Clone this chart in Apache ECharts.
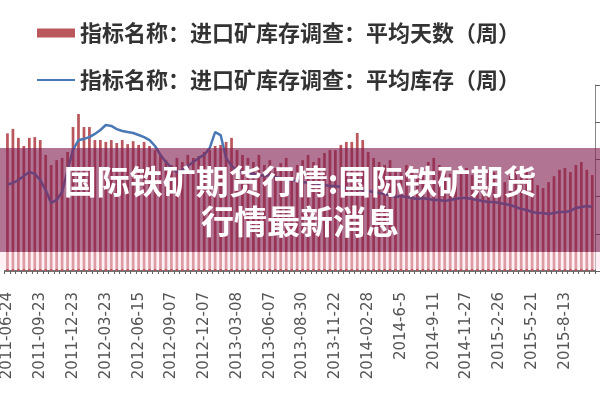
<!DOCTYPE html>
<html>
<head>
<meta charset="utf-8">
<script src="https://cdn.jsdelivr.net/npm/echarts@6/dist/echarts.min.js"></script>
<style>html,body{margin:0;padding:0;background:#fff;}#c{width:600px;height:400px;}</style>
</head>
<body>
<div id="c"></div>
<script>
var categories = [
'2011-06-24','2011-07-08','2011-07-22','2011-08-05','2011-08-19','2011-09-02',
'2011-09-23','2011-10-14','2011-10-28','2011-11-11','2011-11-25','2011-12-09',
'2011-12-23','2012-01-06','2012-01-20','2012-02-10','2012-02-24','2012-03-09',
'2012-03-23','2012-04-06','2012-04-20','2012-05-04','2012-05-18','2012-06-01',
'2012-06-15','2012-06-29','2012-07-13','2012-07-27','2012-08-10','2012-08-24',
'2012-09-07','2012-09-21','2012-10-12','2012-10-26','2012-11-09','2012-11-23',
'2012-12-07','2012-12-21','2013-01-04','2013-01-18','2013-02-01','2013-02-22',
'2013-03-08','2013-03-22','2013-04-05','2013-04-19','2013-05-10','2013-05-24',
'2013-06-07','2013-06-21','2013-07-05','2013-07-19','2013-08-02','2013-08-16',
'2013-08-30','2013-09-13','2013-09-27','2013-10-11','2013-10-25','2013-11-08',
'2013-11-22','2013-12-06','2013-12-20','2014-01-03','2014-01-24','2014-02-14',
'2014-02-28','2014-3-14','2014-3-28','2014-4-11','2014-4-25','2014-5-16',
'2014-6-5','2014-6-19','2014-7-3','2014-7-17','2014-7-31','2014-8-21',
'2014-9-11','2014-9-25','2014-10-9','2014-10-23','2014-11-6','2014-11-13',
'2014-11-27','2014-12-11','2014-12-25','2015-1-8','2015-1-22','2015-2-5',
'2015-2-26','2015-3-12','2015-3-26','2015-4-9','2015-4-23','2015-5-7',
'2015-5-21','2015-6-4','2015-6-18','2015-7-2','2015-7-16','2015-7-30',
'2015-8-13','2015-8-27','2015-9-10','2015-9-24','2015-10-8','2015-10-22'
];
var avgDays = [
37.0,38.2,35.8,33.6,35.8,36.0,35.2,31.2,28.5,29.8,30.4,32.0,38.7,
42.2,38.7,38.7,35.2,35.2,34.7,35.2,34.4,35.2,34.1,34.9,33.9,
34.7,33.6,32.5,31.2,29.8,28.5,30.4,29.3,31.2,30.4,30.9,32.0,
32.5,33.6,33.9,34.7,35.8,32.5,31.2,
30.4,29.3,31.2,28.5,29.8,27.7,29.0,30.4,27.2,28.5,29.8,31.2,29.3,30.4,31.7,32.5,
32.5,33.9,34.7,34.7,37.1,35.2,32.0,
30.4,29.3,28.5,29.8,27.7,26.6,28.5,27.2,25.8,27.7,29.3,30.4,28.5,27.2,26.1,25.0,
26.6,27.7,25.8,24.5,25.5,27.2,26.6,25.0,23.9,25.5,27.2,28.5,26.6,25.0,23.1,22.3,
23.9,25.5,27.2,27.7,26.6,
28.5,29.3,27.2,25.8
];
var avgStock = [
46.5,47.3,48.9,51.1,53.2,52.2,48.9,43.5,36.6,38.2,42.5,54.3,65.1,
70.4,71.0,72.0,73.7,75.8,78.5,78.0,76.3,75.3,74.7,74.2,73.1,
72.0,70.4,67.2,62.4,58.6,55.4,53.2,54.3,56.5,58.6,60.8,62.4,
66.1,74.7,73.1,60.8,56.5,54.3,53.2,
52.7,52.2,51.6,51.1,51.6,50.5,50.0,49.5,48.9,48.4,47.8,47.3,47.3,46.8,46.2,45.7,
45.7,45.2,44.6,44.6,44.1,43.5,43.0,42.5,41.9,41.4,40.9,39.8,40.3,39.8,39.2,38.7,
39.2,38.7,38.2,38.2,37.6,38.2,38.7,39.2,39.2,38.7,38.2,37.6,37.1,37.1,36.6,36.0,
35.5,34.4,33.3,32.8,31.7,31.2,31.2,30.6,31.2,31.7,31.7,32.3,33.9,34.4,34.9,34.4
];
var seriesNames = ['指标名称：进口矿库存调查：平均天数（周）','指标名称：进口矿库存调查：平均库存（周）'];
var titleLines = ['国际铁矿期货行情:国际铁矿期货','行情最新消息'];

var chart = echarts.init(document.getElementById('c'), null, {renderer:'canvas'});
chart.setOption({
  animation: false,
  backgroundColor: '#ffffff',
  legend: {
    orient: 'vertical', left: 32, top: 17, itemWidth: 38, itemHeight: 9, itemGap: 25,
    textStyle: {fontSize: 22, color: '#333', fontFamily: '"Noto Sans CJK SC"', fontWeight: 'bold'},
    data: [{name: seriesNames[0], icon: 'rect'},
           {name: seriesNames[1], icon: 'path://M0,0 L40,0 L40,2 L0,2 Z'}]
  },
  grid: {left: -6.8, right: 5, top: 85, bottom: 129, containLabel: false},
  xAxis: {
    type: 'category', data: categories, boundaryGap: true,
    axisLine: {lineStyle: {color: '#444', width: 1.5}},
    axisTick: {show: true, interval: 0, length: 3, lineStyle: {color: '#666'}},
    axisLabel: {interval: 5, rotate: 90, margin: 21, fontSize: 15, color: '#555', fontFamily: '"DejaVu Sans"'}
  },
  yAxis: [
    {type: 'value', min: 0, max: 50, interval: 10, show: false, splitLine: {show: false}},
    {type: 'value', min: 0, max: 100, interval: 20, position: 'right',
     axisLine: {show: true, lineStyle: {color: '#888'}},
     axisTick: {show: true, length: 5, lineStyle: {color: '#666'}},
     axisLabel: {show: false}, splitLine: {show: false}}
  ],
  series: [
    {name: seriesNames[0], type: 'bar', data: avgDays, yAxisIndex: 0, barWidth: '50%',
     itemStyle: {color: '#b9575d'}},
    {name: seriesNames[1], type: 'line', data: avgStock, yAxisIndex: 1, symbol: 'none',
     lineStyle: {color: '#4a78b5', width: 2.5}, itemStyle: {color: '#4a78b5'}}
  ],
  graphic: [
    {type: 'rect', z: 100, shape: {x: 0, y: 148, width: 600, height: 104}, style: {fill: 'rgba(130,30,80,0.62)'}},
    {type: 'rect', z: 100, shape: {x: 0, y: 252, width: 600, height: 17}, style: {fill: 'rgba(255,225,235,0.5)'}},
    {type: 'text', z: 101, style: {x: 300, y: 181, text: titleLines[0], textAlign: 'center', textVerticalAlign: 'middle',
      font: 'bold 33px "Noto Sans CJK SC"', fill: '#ffffff'}},
    {type: 'text', z: 101, style: {x: 300, y: 221, text: titleLines[1], textAlign: 'center', textVerticalAlign: 'middle',
      font: 'bold 33px "Noto Sans CJK SC"', fill: '#ffffff'}}
  ]
});
</script>
</body>
</html>
